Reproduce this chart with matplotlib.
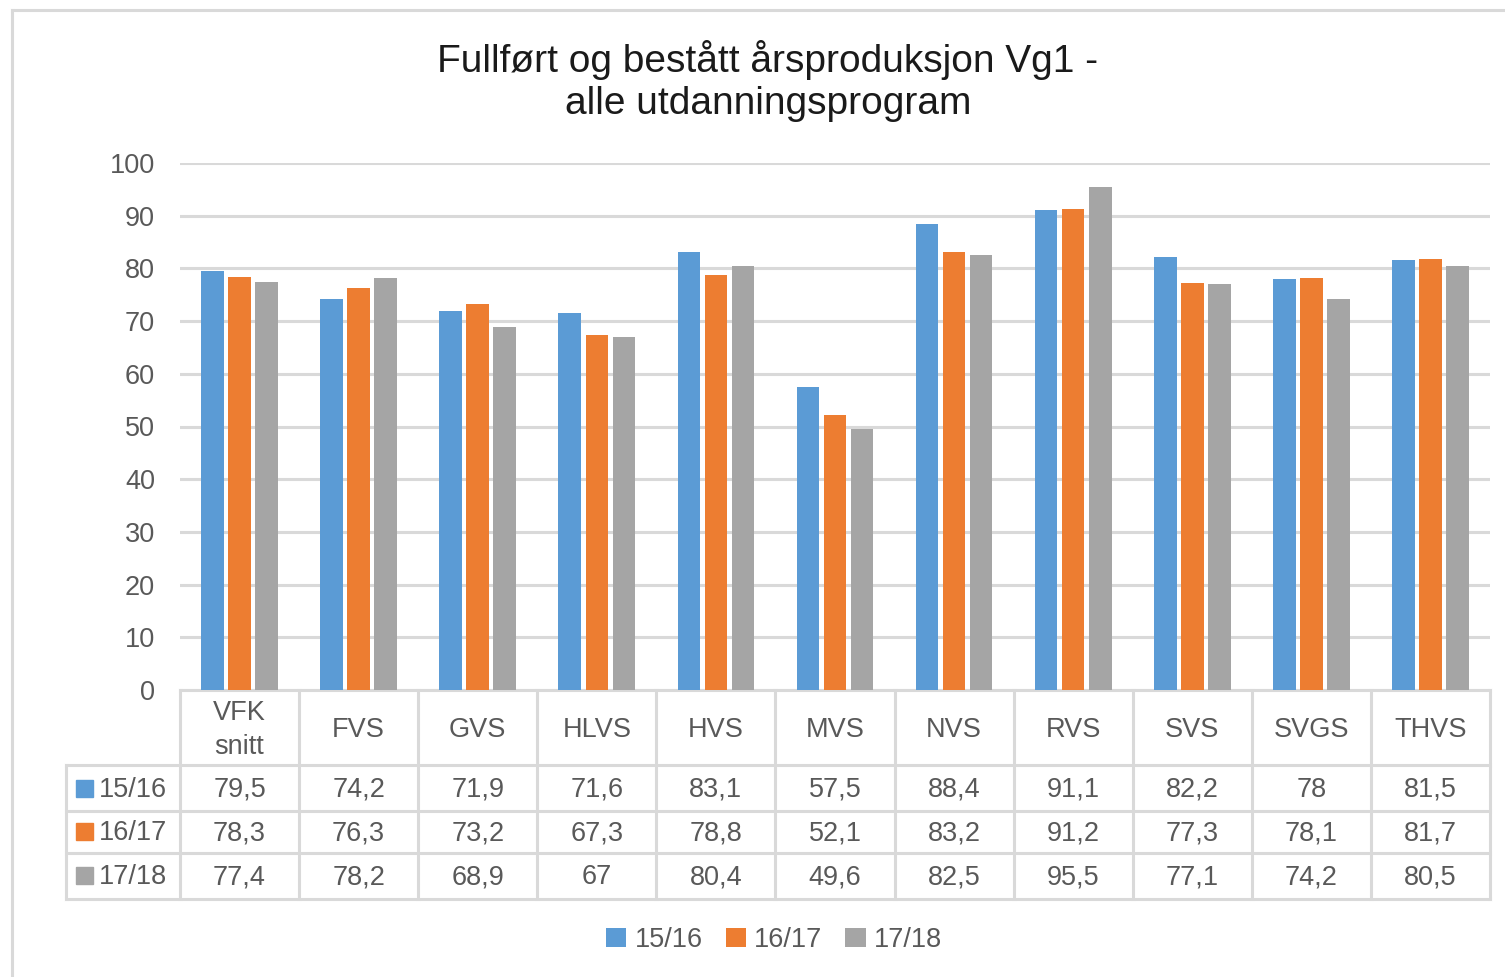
#!/usr/bin/env python3
import matplotlib
matplotlib.use("Agg")
import matplotlib.pyplot as plt
from matplotlib.lines import Line2D
from matplotlib.patches import Rectangle

# ====== DATA ======
schools = ["VFK\nsnitt", "FVS", "GVS", "HLVS", "HVS", "MVS", "NVS", "RVS", "SVS", "SVGS", "THVS"]
years   = ["15/16", "16/17", "17/18"]
v1516   = [79.5, 74.2, 71.9, 71.6, 83.1, 57.5, 88.4, 91.1, 82.2, 78.0, 81.5]
v1617   = [78.3, 76.3, 73.2, 67.3, 78.8, 52.1, 83.2, 91.2, 77.3, 78.1, 81.7]
v1718   = [77.4, 78.2, 68.9, 67.0, 80.4, 49.6, 82.5, 95.5, 77.1, 74.2, 80.5]
yticks  = [0, 10, 20, 30, 40, 50, 60, 70, 80, 90, 100]
# ==================

COLORS = ["#5b9bd5", "#ed7d31", "#a5a5a5"]
GRID   = "#d9d9d9"
TXT    = "#595959"
FS     = 19.5

plt.rcParams["font.family"] = ["Liberation Sans", "DejaVu Sans"]

W, H = 1505, 977
fig = plt.figure(figsize=(W / 100, H / 100), dpi=100)
fig.patch.set_facecolor("white")

# outer chart border (only top and left visible)
fig.add_artist(Line2D([12 / W, 1], [1 - 9.5 / H, 1 - 9.5 / H], color=GRID, lw=2.2))
fig.add_artist(Line2D([12 / W, 12 / W], [0, 1 - 9.5 / H], color=GRID, lw=2.2))

ax = fig.add_axes([180 / W, 1 - 690 / H, 1310 / W, 527 / H])
series = [v1516, v1617, v1718]
n = len(schools)
bw, step = 0.19, 0.227
for k, vals in enumerate(series):
    xs = [i + (k - 1) * step for i in range(n)]
    ax.bar(xs, vals, width=bw, color=COLORS[k], zorder=3, label=years[k])

ax.set_xlim(-0.5, n - 0.5)
ax.set_ylim(0, 100)
ax.set_yticks(yticks)
ax.set_xticks([])
ax.tick_params(axis="y", length=0, pad=18, labelsize=FS, labelcolor=TXT)
for s in ax.spines.values():
    s.set_visible(False)
ax.set_axisbelow(True)
ax.yaxis.grid(True, color=GRID, lw=2.2)

# ---- data table under the axis ----
tr = ax.get_xaxis_transform()
ph = 527.0
colw = 1310 / n


def ay(py):
    # pixel row below the axis -> axes fraction
    return -(py - 690) / ph


y_head, y_r1, y_r2, y_bot = ay(765), ay(811), ay(853), ay(899)
x_left = -0.5 - (180 - 66) / colw
lkw = dict(color=GRID, lw=2.2, transform=tr, clip_on=False)

for yy in (y_head, y_r1, y_r2, y_bot):
    ax.plot([x_left, n - 0.5], [yy, yy], **lkw)
ax.plot([-0.5, n - 0.5], [0, 0], **lkw)
for i in range(n + 1):
    ax.plot([i - 0.5, i - 0.5], [0, y_bot], **lkw)
ax.plot([x_left, x_left], [y_head, y_bot], **lkw)

head_base = [ay(737)]
head_base2 = [ay(720), ay(754)]
row_base = [ay(797), ay(840), ay(884)]
for i, name in enumerate(schools):
    lines = name.split("\n")
    bases = head_base if len(lines) == 1 else head_base2
    for ln, yb in zip(lines, bases):
        ax.text(i, yb, ln, transform=tr, ha="center", va="baseline",
                fontsize=FS, color=TXT)
    for k, vals in enumerate(series):
        ax.text(i, row_base[k], f"{vals[i]:g}".replace(".", ","), transform=tr,
                ha="center", va="baseline", fontsize=FS, color=TXT)

sq = 17 / colw
x0 = x_left + (76 - 66) / colw
for k, yr in enumerate(years):
    ax.add_patch(Rectangle((x0, row_base[k]), sq, 17 / ph,
                           transform=tr, color=COLORS[k], clip_on=False))
    ax.text(x0 + sq + 6 / colw, row_base[k], yr, transform=tr,
            ha="left", va="baseline", fontsize=FS, color=TXT)

# ---- legend ----
leg = fig.legend(loc="center", bbox_to_anchor=(774 / W, 1 - 940 / H), ncol=3,
                 frameon=False, fontsize=FS, handlelength=0.75, handleheight=0.75,
                 handletextpad=0.3, columnspacing=0.85, labelcolor=TXT)

# ---- title ----
fig.text(768 / W, 1 - 81 / H, "Fullført og bestått årsproduksjon Vg1 -\nalle utdanningsprogram",
         ha="center", va="center", fontsize=28, color="#1a1a1a", linespacing=1.25)

fig.savefig("out.png", dpi=100)
